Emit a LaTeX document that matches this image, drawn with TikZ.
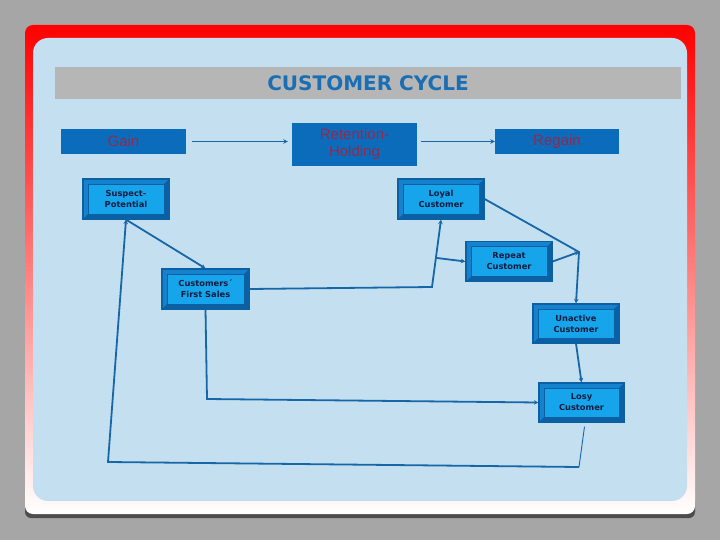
\documentclass[tikz,border=0pt]{standalone}
\usepackage{fontspec}
\setmainfont{Liberation Sans}
\newfontfamily\stagefont{DejaVu Sans}
\usepackage{tikz}
\usetikzlibrary{arrows.meta, positioning}
\definecolor{slidegray}{RGB}{166,166,166}
\definecolor{panelblue}{RGB}{196,224,240}
\definecolor{bargray}{RGB}{182,182,182}
\definecolor{cycleblue}{RGB}{26,110,180}
\definecolor{phaseblue}{RGB}{12,108,188}
\definecolor{phasetext}{RGB}{150,40,75}
\definecolor{stagefill}{RGB}{22,165,234}
\definecolor{stagemid}{RGB}{22,130,206}
\definecolor{stageedge}{RGB}{10,96,162}
\definecolor{stagetext}{RGB}{16,28,64}
\definecolor{linkblue}{RGB}{22,102,168}

\begin{document}
\begin{tikzpicture}[x=1pt, y=-1pt,
  phase/.style={rectangle, fill=phaseblue, text=phasetext, inner sep=0pt,
                minimum width=125pt, minimum height=25pt, align=center,
                font=\fontsize{15}{17}\selectfont},
  stage/.style={rectangle, fill=stagemid, draw=stageedge, line width=1.2pt,
                minimum width=86pt, minimum height=40pt, inner sep=0pt, align=center,
                text=stagetext, font=\stagefont\bfseries\fontsize{8.3}{11}\selectfont,
                path picture={
                  \fill[stageedge] (path picture bounding box.south west)
                    -- (path picture bounding box.south east)
                    -- (path picture bounding box.north east)
                    -- ([shift={(-5pt,-5pt)}]path picture bounding box.north east)
                    -- ([shift={(-5pt,5pt)}]path picture bounding box.south east)
                    -- ([shift={(5pt,5pt)}]path picture bounding box.south west) -- cycle;
                  \fill[stagefill, draw=stageedge, line width=0.8pt]
                    ([shift={(5pt,5pt)}]path picture bounding box.south west)
                    rectangle ([shift={(-5pt,-5pt)}]path picture bounding box.north east);
                }},
  link/.style={-{Stealth[length=4.5pt, width=4.5pt]}, line width=1.8pt, linkblue}
]
% slide
\fill[slidegray] (0,0) rectangle (720,540);
\fill[gray!60!black, rounded corners=6] (25,495) rectangle (695,518);
\shade[top color=red, middle color=red!88!white, bottom color=white, rounded corners=8]
  (25,25) rectangle (695,514);
\fill[panelblue, rounded corners=15] (33,38) rectangle (687,501);
\fill[bargray] (55,67) rectangle (681,99);
\node[text=cycleblue, font=\stagefont\bfseries\fontsize{20}{24}\selectfont] (title) at (368,83) {CUSTOMER CYCLE};

% phases
\node[phase] (gain) at (123.5,141.5) {Gain};
\node[phase, minimum height=43pt] (retention) at (354.5,144.5) {Retention-\\Holding};
\node[phase, minimum width=124pt] (regain) at (557,141.5) {Regain};

\draw[link, line width=1.4pt, shorten <=6pt, shorten >=4pt] (gain.east) -- (gain.east -| retention.west);
\draw[link, line width=1.4pt, shorten <=4pt] (retention.east |- regain.west) -- (regain.west);

% stages
\node[stage] (suspect) at (126,199) {Suspect-\\Potential};
\node[stage] (loyal) at (441,199) {Loyal\\Customer};
\node[stage] (repeat) at (509,261.5) {Repeat\\Customer};
\node[stage, minimum width=87pt] (first) at (205.5,289) {Customers´\\First Sales};
\node[stage, minimum height=39pt] (unactive) at (576,323.5) {Unactive\\Customer};
\node[stage, minimum width=85pt, minimum height=39pt] (losy) at (581.5,402.5) {Losy\\Customer};

\coordinate (kink) at (579,252);
\coordinate (fork) at (437,258);
\coordinate (bendA) at (432,287);
\coordinate (bendB) at (207,399);
\coordinate (loopR) at (579,467);
\coordinate (loopL) at (108,462);

\draw[link] (suspect.south) -- (first.north);
\draw[link] (first.east) -- (bendA) -- (loyal.south);
\draw[link] (fork) -- (repeat.west);
\draw[link] (loyal.east) -- (kink) -- (unactive.north);
\draw[link] (repeat.east) -- (kink);
\draw[link] (unactive.south) -- (losy.north);
\draw[link] (first.south) -- (bendB) -- (losy.west);
\draw[linkblue, line width=0.9pt] ([xshift=3pt,yshift=-4pt]losy.south) -- (loopR);
\draw[link] (loopR) -- (loopL) -- (suspect.south);
\end{tikzpicture}
\end{document}
